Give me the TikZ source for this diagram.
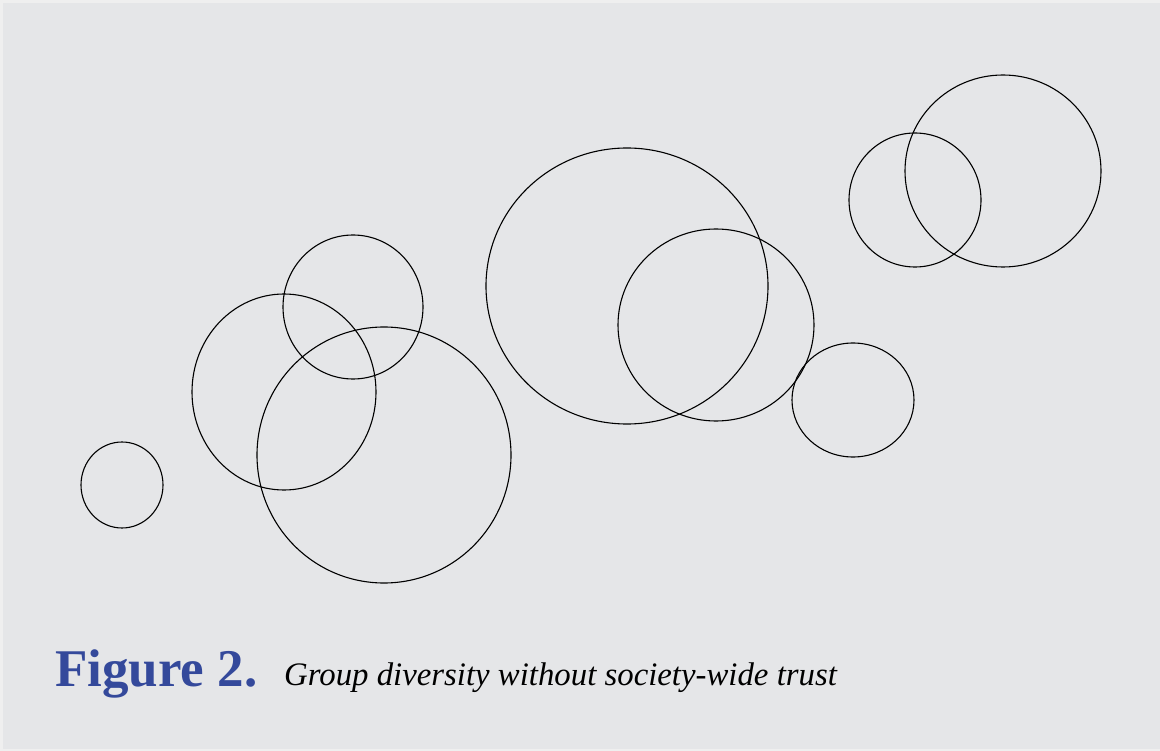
\documentclass[tikz,border=0pt]{standalone}
\usepackage{fontspec}
\setmainfont{Liberation Serif}
\definecolor{panel}{HTML}{E5E6E8}
\definecolor{frame}{HTML}{EFEFEF}
\definecolor{figblue}{HTML}{34499B}
\begin{document}
\begin{tikzpicture}[x=1pt,y=-1pt,
  group/.style={draw=black,line width=1.1pt},
  figlabel/.style={anchor=base west,inner sep=0pt,text=figblue,font=\fontsize{53}{53}\selectfont\bfseries},
  figtitle/.style={anchor=base west,inner sep=0pt,text=black,font=\fontsize{32.8}{33}\selectfont\itshape}]
  % page and panel
  \fill[frame] (0,0) rectangle (1160,751);
  \useasboundingbox (0,0) rectangle (1160,751);
  \fill[panel] (3,3) rectangle (1160,749);
  % overlapping groups
  \draw[group] (122,485) ellipse [x radius=41, y radius=43];
  \draw[group] (284,392) ellipse [x radius=92, y radius=98];
  \draw[group] (353,307) ellipse [x radius=70, y radius=72];
  \draw[group] (384,455) ellipse [x radius=127, y radius=128];
  \draw[group] (627,286) ellipse [x radius=141, y radius=138];
  \draw[group] (716,325) ellipse [x radius=98, y radius=96];
  \draw[group] (853,400) ellipse [x radius=61, y radius=57];
  \draw[group] (915,200) ellipse [x radius=66, y radius=67];
  \draw[group] (1003,171) ellipse [x radius=98, y radius=96];
  % caption
  \node[figlabel] (lab) at (55,686) {Figure 2.};
  \node[figtitle] (ttl) at (284,685) {Group diversity without society-wide trust};
\end{tikzpicture}
\end{document}
